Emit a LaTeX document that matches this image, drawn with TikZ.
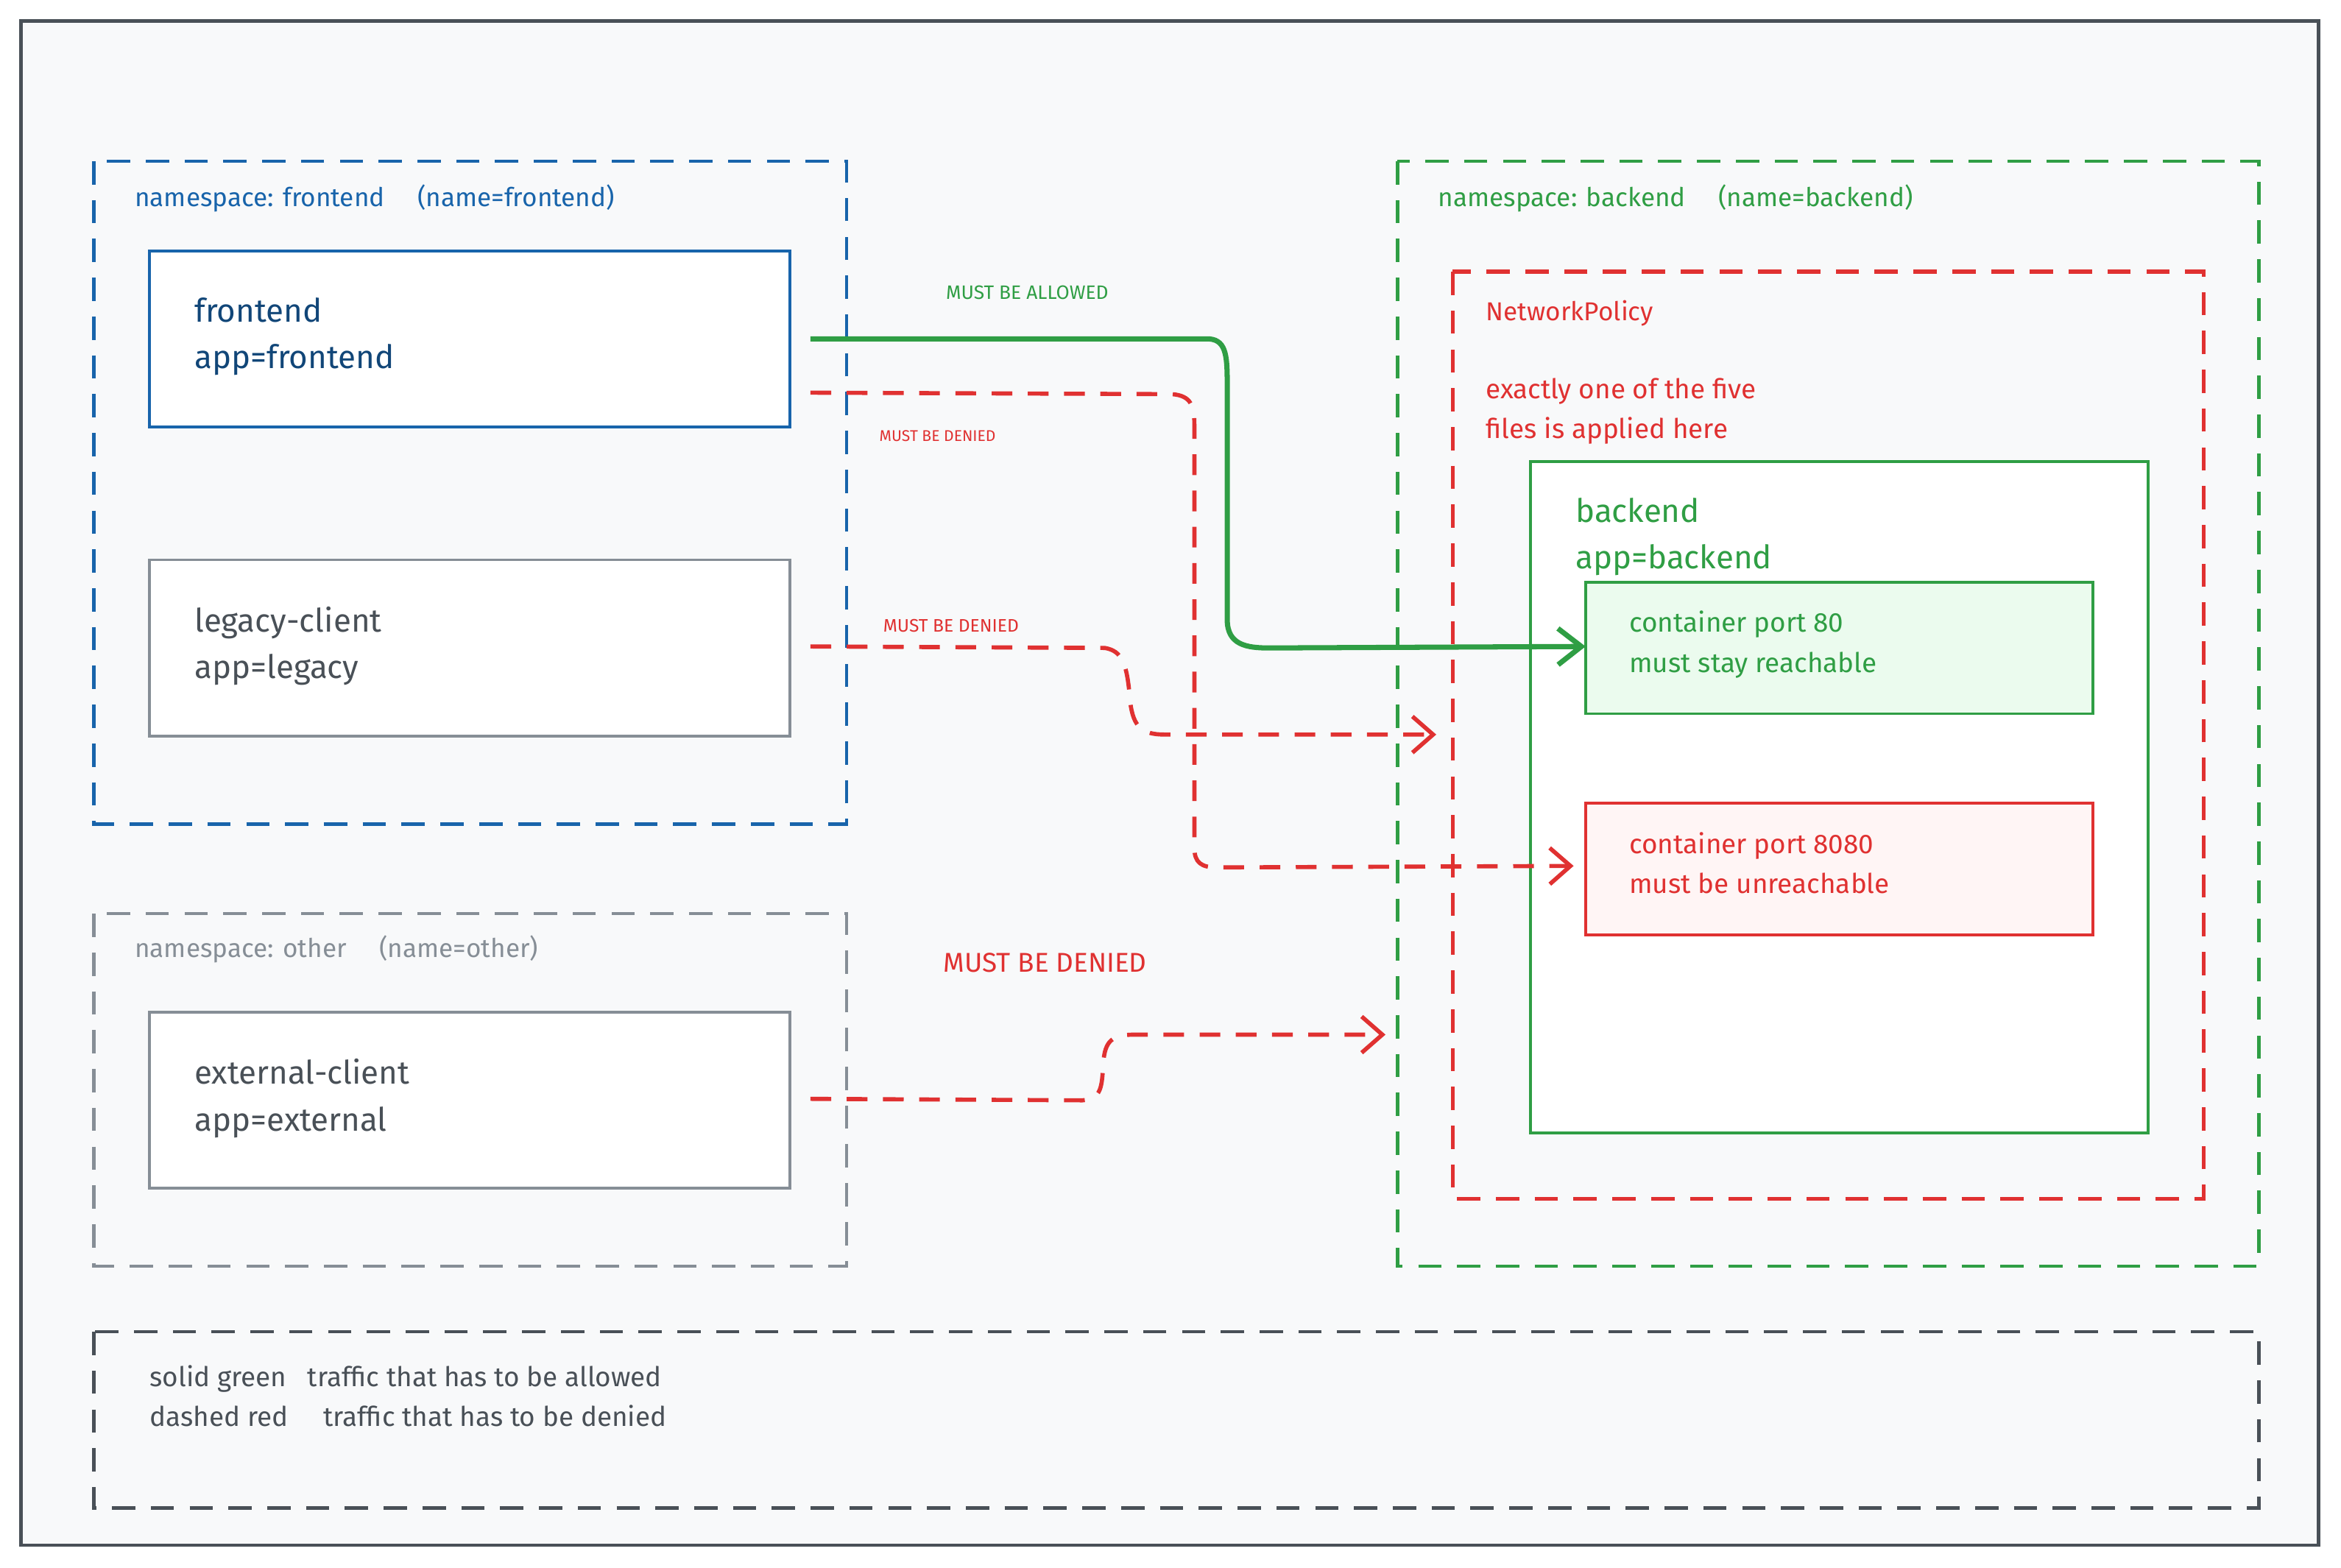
\documentclass[tikz,border=0pt]{standalone}
\usepackage{fontspec}
\setmainfont{Fira Sans}
\usetikzlibrary{arrows.meta}
\definecolor{bg}{HTML}{F8F9FA}
\definecolor{dk}{HTML}{495057}
\definecolor{blu}{HTML}{1864AB}
\definecolor{gry}{HTML}{868E96}
\definecolor{grn}{HTML}{2F9E44}
\definecolor{rd}{HTML}{E03131}
\definecolor{lgrn}{HTML}{EBFBEE}
\definecolor{lrd}{HTML}{FFF5F5}
\tikzset{
 ns/.style={dash pattern=on 9pt off 6pt,line width=1.3pt},
 box/.style={line width=1.1pt,fill=white},
 lab/.style={anchor=west,font=\fontsize{10}{12}\selectfont,inner sep=0pt},
 big/.style={anchor=north west,align=left,font=\fontsize{12.5}{18}\selectfont,inner sep=0pt},
 deny/.style={rd,line width=1.6pt,dash pattern=on 8pt off 6pt,-{Straight Barb[length=8pt,width=14pt]}},
 allow/.style={grn,line width=2pt,-{Straight Barb[length=9pt,width=14pt]}},
}
\begin{document}
\begin{tikzpicture}[x=0.02028cm,y=-0.02028cm]
\useasboundingbox (0,0) rectangle (1568,1050);
\draw[draw=dk,line width=1.3pt,fill=bg] (14,14) rectangle (1553,1035);
% frontend ns
\draw[ns,draw=blu] (63,108) rectangle (567,552);
\node[lab,blu] (l1) at (90,133) {namespace: frontend \quad (name=frontend)};
\draw[box,draw=blu] (100,168) rectangle (529,286);
\coordinate (fe) at (529,227);\coordinate (fe2) at (529,263);
\node[big,blu!70!black] (t1) at (130,199) {frontend\\app=frontend};
\draw[box,draw=gry] (100,375) rectangle (529,493);
\coordinate (lc) at (529,433);
\node[big,dk] (t2) at (130,406) {legacy-client\\app=legacy};
% other
\draw[ns,draw=gry] (63,612) rectangle (567,848);
\node[lab,gry] (l2) at (90,636) {namespace: other \quad (name=other)};
\draw[box,draw=gry] (100,678) rectangle (529,796);
\coordinate (ec) at (529,736);
\node[big,dk] (t3) at (130,709) {external-client\\app=external};
% backend
\draw[ns,draw=grn] (936,108) rectangle (1513,848);
\node[lab,grn] (l3) at (963,133) {namespace: backend \quad (name=backend)};
\draw[ns,draw=rd,line width=1.6pt] (973,182) rectangle (1476,803);
\node[lab,rd] (np) at (995,210) {NetworkPolicy};
\node[big,rd,font=\fontsize{10.5}{15.5}\selectfont] (np2) at (995,253) {exactly one of the five\\files is applied here};
\draw[box,draw=grn] (1025,309) rectangle (1439,759);
\node[big,grn] (t4) at (1055,333) {backend\\app=backend};
\draw[draw=grn,line width=1.1pt,fill=lgrn] (1062,390) rectangle (1402,478);
\coordinate (p80) at (1062,433);
\node[big,grn,font=\fontsize{10.5}{15.5}\selectfont] (t5) at (1091,409) {container port 80\\must stay reachable};
\draw[draw=rd,line width=1.1pt,fill=lrd] (1062,538) rectangle (1402,626);
\coordinate (p8080) at (1054,580);
\node[big,rd,font=\fontsize{10.5}{15.5}\selectfont] (t6) at (1091,557) {container port 8080\\must be unreachable};
% legend
\draw[ns,draw=dk] (63,892) rectangle (1513,1010);
\node[big,dk,font=\fontsize{10.5}{15.5}\selectfont] (lg) at (100,914) {solid green \enspace traffic that has to be allowed\\dashed red \enspace\ \ traffic that has to be denied};
% connectors
\coordinate (ep1) at (962,492);
\coordinate (ep2) at (928,693);
\draw[allow] ([xshift=8]fe) -- (810,227) .. controls (822,228) and (822,240) .. (822,260) -- (822,415) .. controls (822,432) and (835,434) .. (850,434) -- (p80);
\node[grn,font=\fontsize{7.5}{9}\selectfont] (a1) at (688,196) {MUST BE ALLOWED};
\draw[deny] ([xshift=8]fe2) -- (785,264) .. controls (798,265) and (800,272) .. (800,285) -- (800,568) .. controls (800,578) and (805,581) .. (815,581) -- (p8080);
\node[rd,font=\fontsize{6}{7}\selectfont] (d1) at (628,292) {MUST BE DENIED};
\draw[deny] ([xshift=8]lc) -- (740,434) .. controls (752,436) and (755,445) .. (757,470) .. controls (759,487) and (765,492) .. (780,492) -- (ep1);
\node[rd,font=\fontsize{7}{8}\selectfont] (d2) at (637,419) {MUST BE DENIED};
\draw[deny] ([xshift=8]ec) -- (725,737) .. controls (738,736) and (738,728) .. (739,712) .. controls (740,697) and (745,693) .. (760,693) -- (ep2);
\node[rd,font=\fontsize{10.5}{12}\selectfont] (d3) at (700,645) {MUST BE DENIED};
\end{tikzpicture}
\end{document}
